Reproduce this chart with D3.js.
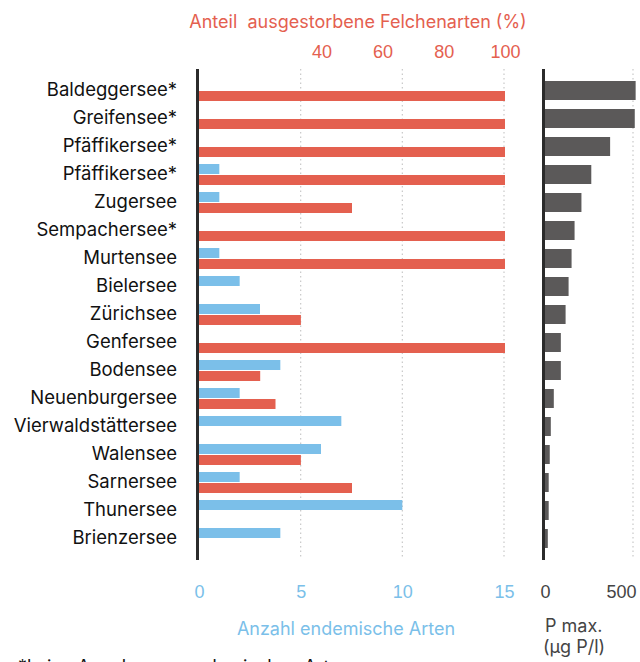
<!DOCTYPE html>
<html>
<head>
<meta charset="utf-8">
<script src="https://cdn.jsdelivr.net/npm/d3@7"></script>
<style>
  html, body { margin: 0; padding: 0; background: #fff; }
  svg { display: block; font-family: "Inter", "Noto Sans", sans-serif; }
</style>
</head>
<body>
<svg id="chart" width="640" height="662"></svg>
<script>
// Seen, Anzahl endemischer Felchenarten, Anteil ausgestorbener Arten und P max.
const lakes = ["Baldeggersee*", "Greifensee*", "Pfäffikersee*", "Pfäffikersee*", "Zugersee",
  "Sempachersee*", "Murtensee", "Bielersee", "Zürichsee", "Genfersee", "Bodensee",
  "Neuenburgersee", "Vierwaldstättersee", "Walensee", "Sarnersee", "Thunersee", "Brienzersee"];
const endemic = [0, 0, 0, 1, 1, 0, 1, 2, 3, 0, 4, 2, 7, 6, 2, 10, 4];
const extinctPct = [100, 100, 100, 100, 50, 100, 100, 0, 33.3, 100, 20, 25, 0, 33.3, 50, 0, 0];
const pMax = [515, 510, 370, 263, 207, 168, 151, 134, 117, 90, 90, 50, 33, 27, 21, 21, 16];

const endemicTicks = [0, 5, 10, 15];
const pctTicks = [40, 60, 80, 100];
const pTicks = [0, 500];

const RED = "#e4604f", BLUE = "#7bbfe9", GREY = "#5b5959", AXIS = "#2b2b2b";

const svg = d3.select("#chart");

// Zeilen
const rowIdx = d3.range(lakes.length);
const y = d3.scaleBand().domain(rowIdx).range([76, 76 + 28 * lakes.length]).padding(0);

// Skalen
const xBlue = d3.scaleLinear().domain([0, 15]).range([199, 504]);
const xRed = d3.scaleLinear().domain([0, 100]).range([199, 505]);
const xP = d3.scaleLinear().domain([0, 500]).range([545, 633]);

const plotTop = 69, plotBottom = 559;

// Gitterlinien (gepunktet)
svg.append("g")
  .selectAll("line")
  .data(endemicTicks.filter(d => d > 0))
  .join("line")
  .attr("x1", d => xBlue(d)).attr("x2", d => xBlue(d))
  .attr("y1", plotTop).attr("y2", plotBottom)
  .attr("stroke", "#c8c8c8").attr("stroke-width", 1.2)
  .attr("stroke-dasharray", "1.5,3");

svg.append("g")
  .selectAll("line")
  .data(pTicks.filter(d => d > 0))
  .join("line")
  .attr("x1", d => xP(d)).attr("x2", d => xP(d))
  .attr("y1", plotTop).attr("y2", plotBottom)
  .attr("stroke", "#c8c8c8").attr("stroke-width", 1.2)
  .attr("stroke-dasharray", "1.5,3");

// Balken: endemische Arten (blau)
svg.append("g")
  .selectAll("rect")
  .data(rowIdx.filter(i => endemic[i] > 0))
  .join("rect")
  .attr("x", xBlue(0))
  .attr("y", i => y(i) + 4)
  .attr("width", i => xBlue(endemic[i]) - xBlue(0))
  .attr("height", 10)
  .attr("fill", BLUE);

// Balken: ausgestorbene Arten (rot)
svg.append("g")
  .selectAll("rect")
  .data(rowIdx.filter(i => extinctPct[i] > 0))
  .join("rect")
  .attr("x", xRed(0))
  .attr("y", i => y(i) + 15)
  .attr("width", i => xRed(extinctPct[i]) - xRed(0))
  .attr("height", 10)
  .attr("fill", RED);

// Balken: P max (grau)
svg.append("g")
  .selectAll("rect")
  .data(rowIdx)
  .join("rect")
  .attr("x", xP(0))
  .attr("y", i => y(i) + 5)
  .attr("width", i => xP(pMax[i]) - xP(0))
  .attr("height", 19)
  .attr("fill", GREY);

// Achsenlinien
svg.append("line")
  .attr("x1", 197.5).attr("x2", 197.5).attr("y1", plotTop).attr("y2", plotBottom + 1)
  .attr("stroke", AXIS).attr("stroke-width", 3);
svg.append("line")
  .attr("x1", 543.5).attr("x2", 543.5).attr("y1", plotTop).attr("y2", plotBottom + 1)
  .attr("stroke", AXIS).attr("stroke-width", 3);

// Seenamen
svg.append("g")
  .selectAll("text")
  .data(rowIdx)
  .join("text")
  .attr("x", 177)
  .attr("y", i => y(i) + 14)
  .attr("dy", "0.35em")
  .attr("text-anchor", "end")
  .attr("font-size", 18.5)
  .attr("fill", "#111")
  .text(i => lakes[i]);

// Obere Achse (Prozent)
const topAxis = d3.axisTop(xRed).tickValues(pctTicks).tickSize(0).tickPadding(0);
const gTop = svg.append("g").attr("transform", "translate(0,58)").call(topAxis);
gTop.select(".domain").remove();
gTop.selectAll("text").attr("font-size", 18).attr("fill", RED).attr("font-family", null);

svg.append("text")
  .attr("x", 358).attr("y", 28)
  .attr("text-anchor", "middle")
  .attr("font-size", 18)
  .attr("fill", RED)
  .attr("xml:space", "preserve")
  .text("Anteil  ausgestorbene Felchenarten (%)");

// Untere Achse (Anzahl)
const botAxis = d3.axisBottom(xBlue).tickValues(endemicTicks).tickSize(0).tickPadding(0);
const gBot = svg.append("g").attr("transform", "translate(0,585)").call(botAxis);
gBot.select(".domain").remove();
gBot.selectAll("text").attr("font-size", 18).attr("fill", BLUE).attr("font-family", null);

svg.append("text")
  .attr("x", 346).attr("y", 635)
  .attr("text-anchor", "middle")
  .attr("font-size", 18)
  .attr("fill", BLUE)
  .text("Anzahl endemische Arten");

// P-Achse
const pAxis = d3.axisBottom(xP).tickValues(pTicks).tickSize(0).tickPadding(0);
const gP = svg.append("g").attr("transform", "translate(0,585)").call(pAxis);
gP.select(".domain").remove();
gP.selectAll("text").attr("font-size", 18).attr("fill", "#444").attr("font-family", null)
  .attr("text-anchor", d => d === 500 ? "end" : "middle")
  .attr("dx", d => d === 500 ? 3 : 0);

svg.append("text")
  .attr("x", 545).attr("y", 632)
  .attr("font-size", 18).attr("fill", "#444")
  .text("P max.");
svg.append("text")
  .attr("x", 543).attr("y", 653)
  .attr("font-size", 18).attr("fill", "#444")
  .text("(µg P/l)");

// Fussnote (unten angeschnitten)
svg.append("text")
  .attr("x", 18).attr("y", 673)
  .attr("font-size", 18).attr("fill", "#111")
  .text("*keine Angaben zu endemischen Arten");
</script>
</body>
</html>
